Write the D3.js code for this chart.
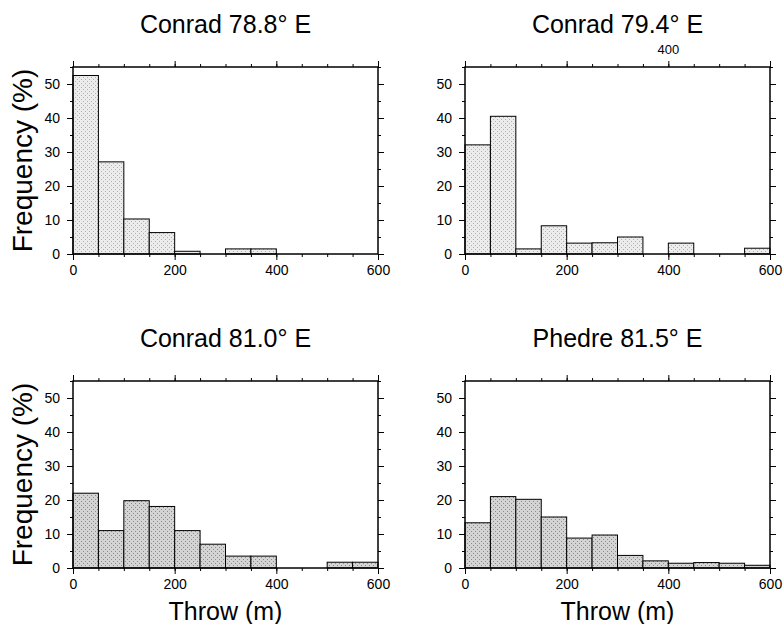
<!DOCTYPE html>
<html>
<head>
<meta charset="utf-8">
<script src="https://cdn.jsdelivr.net/npm/d3@7"></script>
<style>
  body { margin: 0; background: #fff; }
  text { font-family: "Liberation Sans", Arial, sans-serif; fill: #000; }
</style>
</head>
<body>
<div id="chart"></div>
<script>
// throw bins (m), each 50 m wide
const binStarts = [0, 50, 100, 150, 200, 250, 300, 350, 400, 450, 500, 550];
const binWidth = 50;

const titles = ["Conrad 78.8\u00b0 E", "Conrad 79.4\u00b0 E", "Conrad 81.0\u00b0 E", "Phedre 81.5\u00b0 E"];

// frequency (%) per bin
const conrad788 = [52.5, 27.1, 10.3, 6.3, 0.8, 0, 1.5, 1.5, 0, 0, 0, 0];
const conrad794 = [32.1, 40.5, 1.5, 8.3, 3.2, 3.3, 5.0, 0, 3.2, 0, 0, 1.7];
const conrad810 = [22.0, 11.0, 19.8, 18.1, 11.0, 7.0, 3.5, 3.5, 0, 0, 1.7, 1.7];
const phedre815 = [13.3, 21.0, 20.2, 15.0, 8.8, 9.7, 3.7, 2.1, 1.4, 1.6, 1.4, 0.8];

const xTicks = [0, 200, 400, 600];
const yTicks = [0, 10, 20, 30, 40, 50];

function init() {
  const w = 784;
  const h = 624;
  const pw = 305;   // frame width
  const ph = 187;   // frame height
  const cols = [73, 465];
  const rows = [67, 381];

  const svg = d3.select("#chart").append("svg")
    .attr("width", w)
    .attr("height", h);

  // stipple fills for the bars
  const defs = svg.append("defs");
  function stipple(id, base, dot) {
    const p = defs.append("pattern")
      .attr("id", id)
      .attr("patternUnits", "userSpaceOnUse")
      .attr("width", 4)
      .attr("height", 4);
    p.append("rect").attr("width", 4).attr("height", 4).attr("fill", base);
    p.append("rect").attr("x", 0).attr("y", 0).attr("width", 1).attr("height", 1).attr("fill", dot);
    p.append("rect").attr("x", 2).attr("y", 2).attr("width", 1).attr("height", 1).attr("fill", dot);
  }
  stipple("lightDots", "#ececec", "#b0b0b0");
  stipple("darkDots", "#d4d4d4", "#8c8c8c");

  const panels = [
    { title: titles[0], values: conrad788, col: 0, row: 0, fill: "url(#lightDots)" },
    { title: titles[1], values: conrad794, col: 1, row: 0, fill: "url(#lightDots)" },
    { title: titles[2], values: conrad810, col: 0, row: 1, fill: "url(#darkDots)" },
    { title: titles[3], values: phedre815, col: 1, row: 1, fill: "url(#darkDots)" }
  ];

  var x = d3.scaleLinear().domain([0, 600]).range([0, pw]);
  var y = d3.scaleLinear().domain([0, 55]).range([ph, 0]);

  panels.forEach(function (p, pi) {
    const g = svg.append("g")
      .attr("transform", "translate(" + cols[p.col] + "," + rows[p.row] + ")");

    // bars
    g.selectAll("rect.bar")
      .data(p.values.map(function (v, i) { return { x0: binStarts[i], v: v }; }))
      .enter()
      .append("rect")
      .attr("class", "bar")
      .attr("x", function (d) { return x(d.x0); })
      .attr("y", function (d) { return y(d.v); })
      .attr("width", function (d) { return x(d.x0 + binWidth) - x(d.x0); })
      .attr("height", function (d) { return y(0) - y(d.v); })
      .attr("fill", p.fill)
      .attr("stroke", "#000")
      .attr("stroke-width", 1);

    // minor ticks
    const minorX = d3.range(0, 601, 50);
    const minorY = d3.range(0, 56, 5);

    function ticks(axis, transform, major, minor) {
      const a = g.append("g").attr("transform", transform)
        .call(axis.tickValues(minor).tickSize(3).tickFormat(""));
      a.select(".domain").remove();
      const b = g.append("g").attr("transform", transform)
        .call(major);
      b.select(".domain").remove();
      return b;
    }

    // bottom
    const bx = ticks(d3.axisBottom(x), "translate(0," + ph + ")",
      d3.axisBottom(x).tickValues(xTicks).tickSize(6).tickPadding(5), minorX);
    bx.selectAll("text").attr("font-size", 14).style("font-family", "'Liberation Sans', Arial, sans-serif");

    // top
    ticks(d3.axisTop(x), "translate(0,0)",
      d3.axisTop(x).tickValues(xTicks).tickSize(6).tickFormat(""), minorX);

    // left
    const ly = ticks(d3.axisLeft(y), "translate(0,0)",
      d3.axisLeft(y).tickValues(yTicks).tickSize(6).tickPadding(7), minorY);
    ly.selectAll("text").attr("font-size", 14).style("font-family", "'Liberation Sans', Arial, sans-serif");

    // right
    ticks(d3.axisRight(y), "translate(" + pw + ",0)",
      d3.axisRight(y).tickValues(yTicks).tickSize(6).tickFormat(""), minorY);

    g.selectAll(".tick line").attr("stroke", "#000");

    // frame
    g.append("rect")
      .attr("width", pw)
      .attr("height", ph)
      .attr("fill", "none")
      .attr("stroke", "#000")
      .attr("stroke-width", 1.5);

    // title
    g.append("text")
      .attr("x", pw / 2)
      .attr("y", -34)
      .attr("text-anchor", "middle")
      .attr("font-size", 25)
      .text(p.title);

    if (p.col === 0) {
      g.append("text")
        .attr("transform", "translate(-41," + ph / 2 + ") rotate(-90)")
        .attr("text-anchor", "middle")
        .attr("font-size", 28)
        .text("Frequency (%)");
    }
    if (p.row === 1) {
      g.append("text")
        .attr("x", pw / 2)
        .attr("y", ph + 52)
        .attr("text-anchor", "middle")
        .attr("font-size", 25)
        .text("Throw (m)");
    }
    // stray top annotation on the second panel
    if (pi === 1) {
      g.append("text")
        .attr("x", x(400))
        .attr("y", -13)
        .attr("text-anchor", "middle")
        .attr("font-size", 13)
        .text("400");
    }
  });
}
window.addEventListener("load", init);
</script>
</body>
</html>
